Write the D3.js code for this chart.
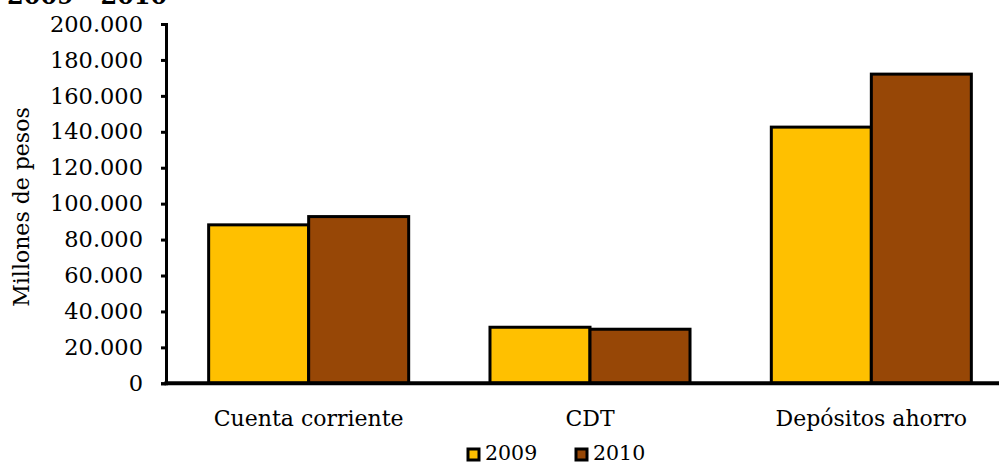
<!DOCTYPE html>
<html>
<head>
<meta charset="utf-8">
<script src="https://cdn.jsdelivr.net/npm/d3@7"></script>
<style>
  body { margin: 0; background: #fff; }
  svg text { font-family: "DejaVu Serif", serif; fill: #000; }
</style>
</head>
<body>
<div id="chart"></div>
<script>
// data (millones de pesos)
const categories = ["Cuenta corriente", "CDT", "Depósitos ahorro"];
const seriesNames = ["2009", "2010"];
const values2009 = [88200, 31200, 142600];
const values2010 = [92800, 30100, 172100];
const yTicks = [0, 20000, 40000, 60000, 80000, 100000, 120000, 140000, 160000, 180000, 200000];
const colors = ["#FFC000", "#974706"];

const width = 999;
const height = 464;

const svg = d3.select("#chart")
  .append("svg")
  .attr("width", width)
  .attr("height", height);

const data = categories.map((c, i) => ({ cat: c, vals: [values2009[i], values2010[i]] }));

const x = d3.scaleBand()
  .domain(categories)
  .range([168, 1012])
  .paddingInner(0.289)
  .paddingOuter(0.1445);

const xSub = d3.scaleBand()
  .domain(seriesNames)
  .range([0, x.bandwidth()]);

const y = d3.scaleLinear()
  .domain([0, 200000])
  .range([383.3, 24]);

const fmt = d3.formatLocale({ decimal: ",", thousands: ".", grouping: [3], currency: ["$", ""] }).format(",.0f");

// title (cut at the top edge, as in the source)
svg.append("text")
  .attr("x", 7)
  .attr("y", 4)
  .style("font-weight", "bold")
  .style("font-size", "24px")
  .text("2009 - 2010");

// bars
const groups = svg.selectAll("g.cat")
  .data(data)
  .enter()
  .append("g")
  .attr("class", "cat")
  .attr("transform", d => `translate(${x(d.cat)},0)`);

groups.selectAll("rect")
  .data(d => d.vals.map((v, i) => ({ s: seriesNames[i], v: v, i: i })))
  .enter()
  .append("rect")
  .attr("x", d => xSub(d.s))
  .attr("y", d => y(d.v))
  .attr("width", xSub.bandwidth())
  .attr("height", d => y(0) - y(d.v))
  .attr("fill", d => colors[d.i])
  .attr("stroke", "#000")
  .attr("stroke-width", 3);

// y axis
const yAxis = svg.append("g")
  .attr("transform", "translate(166,0)")
  .call(d3.axisLeft(y).tickValues(yTicks).tickFormat(fmt).tickSizeOuter(0).tickSize(5).tickPadding(18));
yAxis.select(".domain").attr("stroke", "#000").attr("stroke-width", 3);
yAxis.selectAll(".tick line").attr("stroke", "#000").attr("stroke-width", 3);
yAxis.selectAll(".tick text").style("font-size", "22.5px").attr("font-family", null);

// x axis
const xAxis = svg.append("g")
  .attr("transform", `translate(0,${y(0)})`)
  .call(d3.axisBottom(x).tickSize(0).tickPadding(27));
xAxis.select(".domain").attr("d", `M164.5,0H1012`).attr("stroke", "#000").attr("stroke-width", 4);
xAxis.selectAll(".tick text").style("font-size", "22px").attr("font-family", null);

// y axis title
svg.append("text")
  .attr("transform", "translate(29,207) rotate(-90)")
  .attr("text-anchor", "middle")
  .style("font-size", "22px")
  .text("Millones de pesos");

// legend
const legend = svg.append("g")
  .selectAll("g")
  .data(seriesNames)
  .enter()
  .append("g")
  .attr("transform", (d, i) => `translate(${468 + i * 108},449)`);

legend.append("rect")
  .attr("width", 11)
  .attr("height", 11)
  .attr("fill", (d, i) => colors[i])
  .attr("stroke", "#000")
  .attr("stroke-width", 3);

legend.append("text")
  .attr("x", 17)
  .attr("y", 11)
  .style("font-size", "20.5px")
  .text(d => d);
</script>
</body>
</html>
